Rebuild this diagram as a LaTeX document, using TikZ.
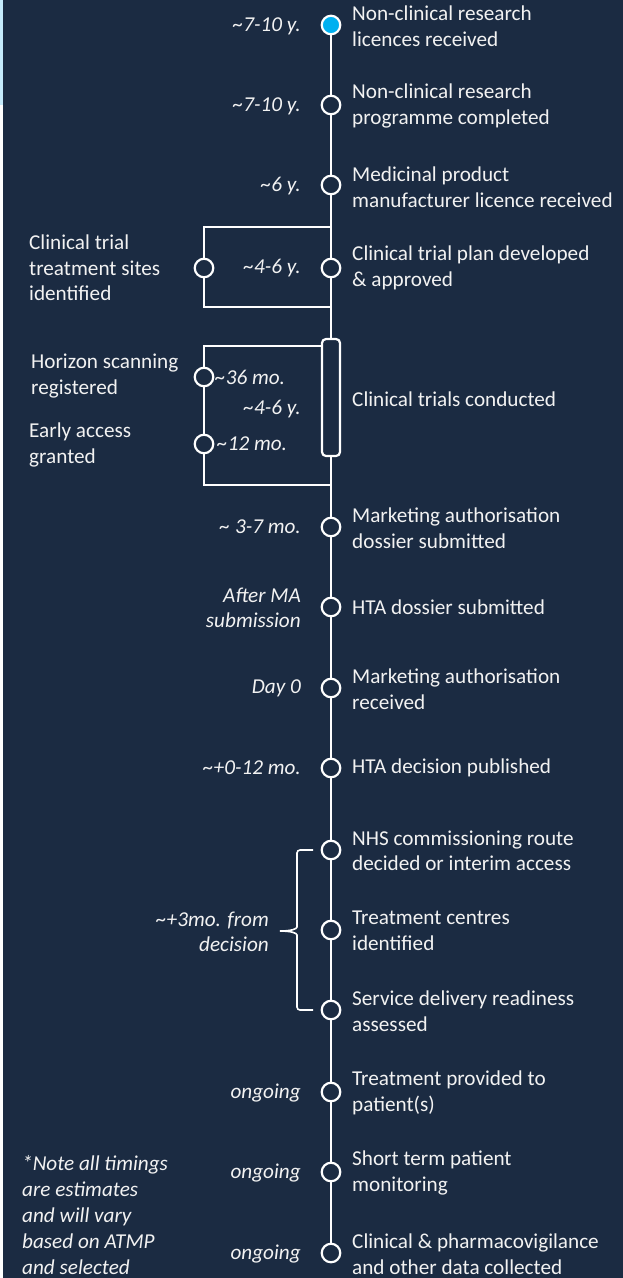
\documentclass[tikz,border=0pt]{standalone}
\usepackage{fontspec}
\setmainfont{Carlito}
\definecolor{bg}{RGB}{27,43,66}
\definecolor{dot}{RGB}{0,176,240}
\definecolor{strip}{RGB}{197,235,251}
\definecolor{txt}{RGB}{242,242,242}
\begin{document}
\begin{tikzpicture}[x=1pt,y=-1pt,
  font=\fontsize{21.2}{25.5}\selectfont,
  every node/.style={text=txt},
  ln/.style={draw=white,line width=2.2pt},
  milestone/.style={circle,draw=white,line width=2.2pt,fill=bg,minimum size=18.5pt,inner sep=0pt},
  phasebox/.style={rectangle,rounded corners=4pt,draw=white,line width=2.2pt,fill=bg,minimum width=18pt,minimum height=117pt,inner sep=0pt},
  desc/.style={anchor=west,align=left,inner sep=0pt},
  when/.style={anchor=east,align=right,inner sep=0pt,font=\fontsize{21.2}{25.5}\selectfont\itshape},
  leftdesc/.style={anchor=west,align=left,inner sep=0pt}]
\fill[bg] (0,0) rectangle (623,1278);
\fill[white] (0,0) rectangle (3,1278);
\fill[strip] (0,0) rectangle (3,105);
\useasboundingbox (0,0) rectangle (623,1278);

% main milestones
\node[milestone,fill=dot] (c1) at (331,25) {};
\node[milestone] (c2) at (331,105) {};
\node[milestone] (c3) at (331,185) {};
\node[milestone] (c4) at (331,268) {};
\node[phasebox] (ct) at (331,397.5) {};
\node[milestone] (c5) at (331,527) {};
\node[milestone] (c6) at (331,607) {};
\node[milestone] (c7) at (331,688) {};
\node[milestone] (c8) at (331,768) {};
\node[milestone] (c9) at (331,850) {};
\node[milestone] (c10) at (331,930) {};
\node[milestone] (c11) at (331,1010) {};
\node[milestone] (c12) at (331,1092) {};
\node[milestone] (c13) at (331,1172) {};
\node[milestone] (c14) at (331,1253) {};

% side milestones
\node[milestone] (l1) at (204,268) {};
\node[milestone] (l2) at (204,377) {};
\node[milestone] (l3) at (204,444) {};

% bracket junctions
\coordinate (b1t) at (331,227);
\coordinate (b1b) at (331,307);
\coordinate (b2t) at (322,346);
\coordinate (b2b) at (331,485);

% main line
\draw[ln] (c1) -- (c2);
\draw[ln] (c2) -- (c3);
\draw[ln] (c3) -- (c4);
\draw[ln] (c4) -- (ct);
\draw[ln] (ct) -- (c5);
\draw[ln] (c5) -- (c6);
\draw[ln] (c6) -- (c7);
\draw[ln] (c7) -- (c8);
\draw[ln] (c8) -- (c9);
\draw[ln] (c9) -- (c10);
\draw[ln] (c10) -- (c11);
\draw[ln] (c11) -- (c12);
\draw[ln] (c12) -- (c13);
\draw[ln] (c13) -- (c14);

% brackets
\draw[ln] (b1t) -| (l1);
\draw[ln] (l1) |- (b1b);
\draw[ln] (b2t) -| (l2);
\draw[ln] (l2) -- (l3);
\draw[ln] (l3) |- (b2b);

% brace
\coordinate (brt) at (313,850);
\coordinate (brb) at (313,1010);
\coordinate (brtip) at (280,931);
\draw[white,line width=1.6pt,rounded corners=3pt] (brt) -- (297,850) -- (297,924)
  .. controls (297,929) and (291,931) .. (brtip);
\draw[white,line width=1.6pt,rounded corners=3pt] (brtip) .. controls (291,931) and (297,933) .. (297,938)
  -- (297,1010) -- (brb);

% descriptions right
\node[desc] (d1) at (352,26) {Non-clinical research\\licences received};
\node[desc] (d2) at (352,106) {Non-clinical research\\programme completed};
\node[desc] (d3) at (352,187) {Medicinal product\\manufacturer licence received};
\node[desc] (d4) at (352,268) {Clinical trial plan developed\\\& approved};
\node[desc] (dct) at (352,399) {Clinical trials conducted};
\node[desc] (d5) at (352,528) {Marketing authorisation\\dossier submitted};
\node[desc] (d6) at (352,607) {HTA dossier submitted};
\node[desc] (d7) at (352,689) {Marketing authorisation\\received};
\node[desc] (d8) at (352,768) {HTA decision published};
\node[desc] (d9) at (352,851) {NHS commissioning route\\decided or interim access};
\node[desc] (d10) at (352,931) {Treatment centres\\identified};
\node[desc] (d11) at (352,1011) {Service delivery readiness\\assessed};
\node[desc] (d12) at (352,1093) {Treatment provided to\\patient(s)};
\node[desc] (d13) at (352,1173) {Short term patient\\monitoring};
\node[desc] (d14) at (352,1254) {Clinical \& pharmacovigilance\\and other data collected};

% timings
\node[when] (t1) at (301,26) {\textasciitilde 7-10 y.};
\node[when] (t2) at (301,106) {\textasciitilde 7-10 y.};
\node[when] (t3) at (301,186) {\textasciitilde 6 y.};
\node[when] (t4) at (301,268) {\textasciitilde 4-6 y.};
\node[when] (t4b) at (301,409) {\textasciitilde 4-6 y.};
\node[when,anchor=west] (t36) at (215,377) {\textasciitilde 36 mo.};
\node[when,anchor=west] (t12) at (217,444) {\textasciitilde 12 mo.};
\node[when] (t5) at (301,527) {\textasciitilde{} 3-7 mo.};
\node[when] (t6) at (301,608) {After MA\\submission};
\node[when] (t7) at (301,688) {Day 0};
\node[when] (t8) at (301,768) {\textasciitilde +0-12 mo.};
\node[when] (t9) at (269,932) {\textasciitilde +3mo. from\\decision};
\node[when] (t12a) at (301,1093) {ongoing};
\node[when] (t13) at (301,1173) {ongoing};
\node[when] (t14) at (301,1254) {ongoing};

% left descriptions
\node[leftdesc] (e1) at (29,268) {Clinical trial\\treatment sites\\identified};
\node[leftdesc] (e2) at (31,376) {Horizon scanning\\registered};
\node[leftdesc] (e3) at (29,445) {Early access\\granted};
\node[leftdesc,font=\fontsize{21.2}{26}\selectfont\itshape] (note) at (22,1215) {*Note all timings\\are estimates\\and will vary\\based on ATMP\\and selected};
\end{tikzpicture}
\end{document}
